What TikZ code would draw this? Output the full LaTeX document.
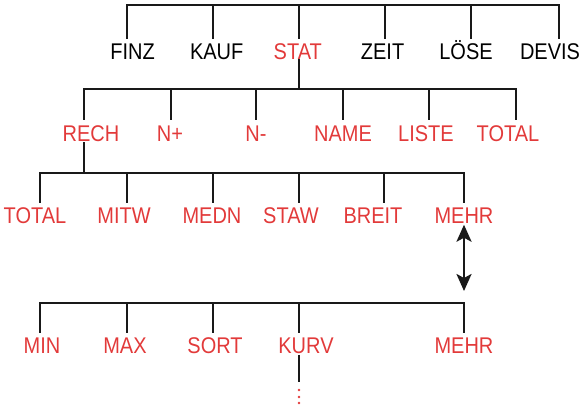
\documentclass[tikz,border=0pt]{standalone}
\usepackage{fontspec}
\setmainfont{Liberation Sans}
\usepackage{tikz}
\usetikzlibrary{arrows.meta,calc,positioning}
\definecolor{menured}{RGB}{226,58,58}
\tikzset{
  menu/.style={anchor=base, inner sep=0pt, xscale=0.88, font=\fontsize{22.8}{24}\selectfont},
  menuhot/.style={menu, text=menured},
  bar/.style={line width=2bp, line cap=rect, black!90},
}

\begin{document}
\begin{tikzpicture}[x=1bp, y=-1bp]
\useasboundingbox (0,0) rectangle (580,409);
% --- riga 1: menu principale ---
\draw[bar] (127,5) -- (559,5);
\foreach \x in {127,213,299,385,471,559} \draw[bar] (\x,5) -- (\x,38);
\node[menu] (finz) at (132.6,59.5) {FINZ};
\node[menu] (kauf) at (216.7,59.5) {KAUF};
\node[menuhot] (stat) at (297.8,59.5) {STAT};
\node[menu] (zeit) at (382.6,59.5) {ZEIT};
\node[menu] (loese) at (466,59.5) {LÖSE};
\node[menu] (devis) at (550,59.5) {DEVIS};
% --- riga 2: STAT ---
\coordinate (statbar) at (299,89);
\draw[bar] (stat.south -| statbar) -- (statbar);
\draw[bar] (84,89) -- (516,89);
\foreach \x in {84,171,256,343,429,516} \draw[bar] (\x,89) -- (\x,119);
\node[menuhot] (rech) at (91,141.5) {RECH};
\node[menuhot] (nplus) at (170,141.5) {N+};
\node[menuhot] (nminus) at (256,141.5) {N-};
\node[menuhot] (name) at (343,141.5) {NAME};
\node[menuhot] (liste) at (426,141.5) {LISTE};
\node[menuhot] (total) at (508,141.5) {TOTAL};
% --- riga 3: RECH ---
\coordinate (rechbar) at (84,173);
\draw[bar] ([yshift=-1bp]rech.south -| rechbar) -- (rechbar);
\draw[bar] (40,173) -- (464,173);
\foreach \x in {40,127,213,299,384,464} \draw[bar] (\x,173) -- (\x,202);
\node[menuhot] (rtotal) at (35,223.5) {TOTAL};
\node[menuhot] (mitw) at (124,223.5) {MITW};
\node[menuhot] (medn) at (212,223.5) {MEDN};
\node[menuhot] (staw) at (291,223.5) {STAW};
\node[menuhot] (breit) at (373,223.5) {BREIT};
\node[menuhot] (mehra) at (464,223.5) {MEHR};
% --- freccia tra le due pagine ---
\coordinate (mehrdown) at (464,291);
\draw[line width=2.6bp, black!90, {Stealth[length=17bp,width=15bp,inset=4bp]}-{Stealth[length=17bp,width=15bp,inset=4bp]}]
  ([yshift=-1bp]mehra.south) -- (mehrdown);
% --- riga 4: seconda pagina ---
\draw[bar] (40,303) -- (464,303);
\foreach \x in {40,127,213,299,464} \draw[bar] (\x,303) -- (\x,332);
\node[menuhot] (min) at (42,353.5) {MIN};
\node[menuhot] (max) at (125,353.5) {MAX};
\node[menuhot] (sort) at (215,353.5) {SORT};
\node[menuhot] (kurv) at (306,353.5) {KURV};
\node[menuhot] (mehrb) at (464,353.5) {MEHR};
\coordinate (kurvend) at (299,382);
\draw[bar, line cap=butt] ([yshift=-1bp]kurv.south -| kurvend) -- (kurvend);
\foreach \y in {390,397,403} \fill[menured] (299,\y) circle (1.3bp);
\end{tikzpicture}
\end{document}
